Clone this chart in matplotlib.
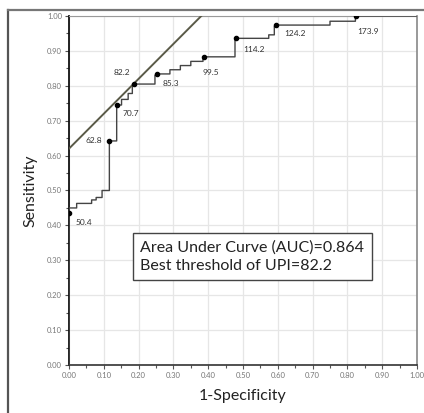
# ROC curve of UPI with best-threshold tangent line

import matplotlib.pyplot as plt
from matplotlib.lines import Line2D
from matplotlib.ticker import MultipleLocator, FormatStrFormatter

# ROC curve vertices (1-specificity, sensitivity)
fpr = [0.0, 0.0, 0.0, 0.022, 0.022, 0.065, 0.065, 0.078, 0.078, 0.095, 0.095,
       0.116, 0.116, 0.137, 0.137, 0.151, 0.151, 0.170, 0.170, 0.182, 0.182,
       0.187, 0.247, 0.247, 0.252, 0.290, 0.290, 0.320, 0.320, 0.350, 0.350,
       0.385, 0.385, 0.389, 0.477, 0.477, 0.480, 0.574, 0.574, 0.590, 0.590,
       0.595, 0.750, 0.750, 0.823, 0.823, 0.825, 1.0]
tpr = [0.0, 0.435, 0.450, 0.450, 0.463, 0.463, 0.473, 0.473, 0.480, 0.480, 0.500,
       0.500, 0.642, 0.642, 0.745, 0.745, 0.761, 0.761, 0.778, 0.778, 0.800,
       0.805, 0.805, 0.830, 0.834, 0.834, 0.846, 0.846, 0.858, 0.858, 0.870,
       0.870, 0.880, 0.883, 0.883, 0.933, 0.936, 0.936, 0.946, 0.946, 0.970,
       0.974, 0.974, 0.985, 0.985, 0.997, 1.0, 1.0]

# labelled cut-off points
cut_x = [0.0, 0.116, 0.137, 0.187, 0.252, 0.389, 0.480, 0.595, 0.825]
cut_y = [0.435, 0.642, 0.745, 0.805, 0.834, 0.883, 0.936, 0.974, 1.0]
cut_labels = ['50.4', '62.8', '70.7', '82.2', '85.3', '99.5', '114.2', '124.2', '173.9']
# label offsets in points and alignment
offsets = [(5, -7, 'left'), (-5, 0, 'right'), (4, -6, 'left'), (-3, 8, 'right'),
           (4, -7, 'left'), (-1, -11, 'left'), (5, -8, 'left'), (6, -6, 'left'),
           (1, -11, 'left')]

tangent_intercept = 0.62
tangent_slope = 1.0

auc = 0.864
best_cut = 82.2

plt.rcParams['font.family'] = ['Lato', 'DejaVu Sans']

fig = plt.figure(figsize=(4.24, 4.13), dpi=100)
ax = fig.add_axes([69 / 424, 48 / 413, 348 / 424, 349 / 413])

# outer frame of the original figure
fig.add_artist(Line2D([8 / 424, 8 / 424], [0, 1 - 10 / 413], transform=fig.transFigure,
                      color='#555555', lw=1.6))
fig.add_artist(Line2D([8 / 424, 1], [1 - 10 / 413, 1 - 10 / 413], transform=fig.transFigure,
                      color='#777777', lw=1.6))

ax.grid(True, color='#e6e6e6', lw=0.9)
ax.set_axisbelow(True)

ax.plot(fpr, tpr, color='#444444', lw=1.0, zorder=3)
ax.plot(cut_x, cut_y, 'o', color='black', ms=3, zorder=4)

xs = [0.0, (1.0 - tangent_intercept) / tangent_slope]
ax.plot(xs, [tangent_intercept + tangent_slope * x for x in xs], color='#5a5a48', lw=1.4, zorder=3)

for x, y, lab, (dx, dy, ha) in zip(cut_x, cut_y, cut_labels, offsets):
    ax.annotate(lab, (x, y), xytext=(dx, dy), textcoords='offset points',
                ha=ha, va='center', fontsize=6, color='#333333', zorder=5)

ax.text(0.205, 0.31, 'Area Under Curve (AUC)=%.3f\nBest threshold of UPI=%.1f' % (auc, best_cut),
        fontsize=11.5, color='#222222', va='center', ha='left', linespacing=1.4,
        bbox=dict(boxstyle='square,pad=0.45', fc='white', ec='#444444', lw=1.0), zorder=6)

ax.set_xlim(0, 1)
ax.set_ylim(0, 1)
ax.xaxis.set_major_locator(MultipleLocator(0.1))
ax.yaxis.set_major_locator(MultipleLocator(0.1))
ax.xaxis.set_minor_locator(MultipleLocator(0.05))
ax.yaxis.set_minor_locator(MultipleLocator(0.05))
ax.xaxis.set_major_formatter(FormatStrFormatter('%.2f'))
ax.yaxis.set_major_formatter(FormatStrFormatter('%.2f'))
ax.tick_params(which='major', length=3, width=0.8, colors='#555555', labelsize=5.5, labelcolor='#777777', pad=2)
ax.tick_params(which='minor', length=2, width=0.8, colors='#555555')

ax.spines['left'].set_color('#111111')
ax.spines['left'].set_linewidth(1.3)
ax.spines['bottom'].set_color('#333333')
ax.spines['bottom'].set_linewidth(1.2)
ax.spines['top'].set_color('#999999')
ax.spines['right'].set_color('#888888')
ax.spines['right'].set_linewidth(1.2)

ax.set_xlabel('1-Specificity', fontsize=11.5, color='#222222', labelpad=7)
ax.set_ylabel('Sensitivity', fontsize=11.5, color='#222222', labelpad=7)

fig.savefig('out.png', dpi=100)
